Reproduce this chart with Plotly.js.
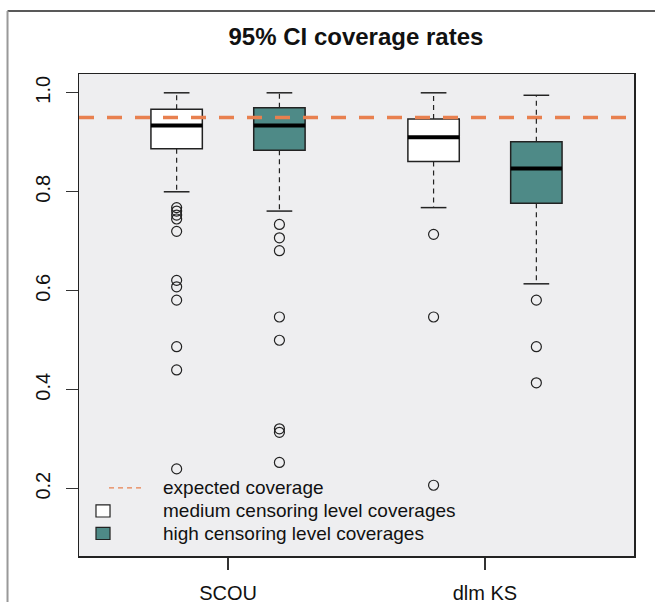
<!DOCTYPE html>
<html>
<head>
<meta charset="utf-8">
<script src="https://cdn.plot.ly/plotly-3.0.1.min.js"></script>
<style>html,body{margin:0;padding:0;background:#fff;}#chart{width:655px;height:602px;}</style>
</head>
<body>
<div id="chart"></div>
<script>
// ---- data ----
const categories = ['SCOU', 'dlm KS'];
const groupNames = ['medium censoring level coverages', 'high censoring level coverages'];
const expectedLabel = 'expected coverage';
const mediumQ1 = [0.887, 0.861];
const mediumMedian = [0.934, 0.910];
const mediumQ3 = [0.967, 0.947];
const mediumLowerWhisker = [0.800, 0.768];
const mediumUpperWhisker = [1.000, 1.000];
const mediumOutliersSCOU = [0.768, 0.761, 0.753, 0.745, 0.720, 0.621, 0.608, 0.581, 0.487, 0.440, 0.240];
const mediumOutliersDLM = [0.714, 0.547, 0.207];
const highQ1 = [0.884, 0.777];
const highMedian = [0.934, 0.847];
const highQ3 = [0.970, 0.901];
const highLowerWhisker = [0.761, 0.614];
const highUpperWhisker = [1.000, 0.995];
const highOutliersSCOU = [0.734, 0.707, 0.681, 0.547, 0.500, 0.321, 0.314, 0.253];
const highOutliersDLM = [0.581, 0.487, 0.414];
const expectedCoverage = 0.95;
const yTickValues = [0.2, 0.4, 0.6, 0.8, 1.0];
const yTickLabels = ['0.2', '0.4', '0.6', '0.8', '1.0'];

// ---- styling / layout constants ----
const fills = ['#ffffff', '#4e8a87'];
const boxLine = '#222222';
const orange = '#e8804f';
const offset = 0.2, boxW = 0.2, stapleW = 0.1;
const xRange = [0.42, 2.58];
const yRange = [0.064, 1.038];

const groups = [
  {q1: mediumQ1, med: mediumMedian, q3: mediumQ3, lo: mediumLowerWhisker, hi: mediumUpperWhisker, out: [mediumOutliersSCOU, mediumOutliersDLM]},
  {q1: highQ1, med: highMedian, q3: highQ3, lo: highLowerWhisker, hi: highUpperWhisker, out: [highOutliersSCOU, highOutliersDLM]}
];

const traces = [];
// expected coverage line (drawn across full x range)
traces.push({
  type: 'scatter', mode: 'lines', name: expectedLabel, x: xRange, y: [expectedCoverage, expectedCoverage],
  line: {color: orange, width: 3.5, dash: '15px,13px'}, showlegend: false, hoverinfo: 'skip'
});

const whiskX = [], whiskY = [], stapX = [], stapY = [], medX = [], medY = [], outX = [], outY = [];
groups.forEach((g, gi) => {
  const pos = categories.map((c, ci) => ci + 1 + (gi === 0 ? -offset : offset));
  traces.push({
    type: 'box', name: groupNames[gi], x: pos,
    q1: g.q1, median: g.med, q3: g.q3, lowerfence: g.q1, upperfence: g.q3,
    width: boxW, whiskerwidth: 0, boxpoints: false,
    fillcolor: fills[gi], line: {color: boxLine, width: 1.5},
    showlegend: false, hoverinfo: 'skip'
  });
  pos.forEach((p, ci) => {
    whiskX.push(p, p, null, p, p, null);
    whiskY.push(g.q3[ci], g.hi[ci], null, g.q1[ci], g.lo[ci], null);
    stapX.push(p - stapleW / 2, p + stapleW / 2, null, p - stapleW / 2, p + stapleW / 2, null);
    stapY.push(g.hi[ci], g.hi[ci], null, g.lo[ci], g.lo[ci], null);
    medX.push(p - boxW / 2, p + boxW / 2, null);
    medY.push(g.med[ci], g.med[ci], null);
    g.out[ci].forEach(v => { outX.push(p); outY.push(v); });
  });
});
traces.push({type: 'scatter', mode: 'lines', x: whiskX, y: whiskY, line: {color: boxLine, width: 1.2, dash: '5px,4px'}, showlegend: false, hoverinfo: 'skip'});
traces.push({type: 'scatter', mode: 'lines', x: stapX, y: stapY, line: {color: boxLine, width: 1.5}, showlegend: false, hoverinfo: 'skip'});
traces.push({type: 'scatter', mode: 'lines', x: medX, y: medY, line: {color: '#000000', width: 4}, showlegend: false, hoverinfo: 'skip'});
traces.push({type: 'scatter', mode: 'markers', x: outX, y: outY, marker: {symbol: 'circle-open', size: 10, color: boxLine, line: {width: 1.2, color: boxLine}}, showlegend: false, hoverinfo: 'skip'});

const font = 'Liberation Sans, Arial, Helvetica, sans-serif';

// legend (drawn inside the plot, bottom-left, as in the original)
const legRowY = [0.1415, 0.0934, 0.0467];
const legTextX = 0.149;
const legSqX = [0.0306, 0.0559];
const legSqH = 0.0125;
const legendShapes = [
  {type: 'line', xref: 'paper', yref: 'paper', x0: 0.0541, x1: 0.1189, y0: legRowY[0], y1: legRowY[0], line: {color: orange, width: 1.3, dash: '5px,4px'}},
  {type: 'rect', xref: 'paper', yref: 'paper', x0: legSqX[0], x1: legSqX[1], y0: legRowY[1] - legSqH, y1: legRowY[1] + legSqH, fillcolor: fills[0], line: {color: boxLine, width: 1.2}},
  {type: 'rect', xref: 'paper', yref: 'paper', x0: legSqX[0], x1: legSqX[1], y0: legRowY[2] - legSqH, y1: legRowY[2] + legSqH, fillcolor: fills[1], line: {color: boxLine, width: 1.2}}
];
const legendTexts = [expectedLabel, groupNames[0], groupNames[1]];
const legendAnnotations = legendTexts.map((t, i) => ({
  xref: 'paper', yref: 'paper', x: legTextX, y: legRowY[i], xanchor: 'left', yanchor: 'middle',
  text: t, showarrow: false, borderpad: 0, font: {size: 19, family: font, color: '#111'}
}));

const layout = {
  width: 655, height: 602,
  margin: {l: 79, r: 21, t: 74, b: 46, pad: 0},
  paper_bgcolor: '#ffffff', plot_bgcolor: '#eeeef0',
  font: {family: font, color: '#111', size: 20},
  title: {text: '<b>95% CI coverage rates</b>', x: 0.5434, xanchor: 'center', y: 0.94, yanchor: 'middle', yref: 'container', font: {size: 24, family: font, color: '#111'}},
  showlegend: false,
  xaxis: {range: xRange, tickvals: [1, 2], ticktext: categories, ticks: 'outside', ticklen: 12, tickwidth: 1.2, tickcolor: '#333',
          showgrid: false, zeroline: false, showline: true, mirror: true, linecolor: '#222', linewidth: 1.5,
          tickfont: {size: 20, family: font, color: '#111'}, ticklabelstandoff: 6},
  yaxis: {range: yRange, tickvals: yTickValues, ticktext: yTickLabels, ticks: 'outside', ticklen: 12, tickwidth: 1.2, tickcolor: '#333',
          showgrid: false, zeroline: false, showline: true, mirror: true, linecolor: '#222', linewidth: 1.5,
          tickangle: -90, tickfont: {size: 20, family: font, color: '#111'}, ticklabelstandoff: 8},
  boxmode: 'overlay',
  annotations: legendAnnotations,
  shapes: [
    {type: 'line', xref: 'paper', yref: 'paper', x0: -0.1288, x1: 1.05, y0: 1.1307, y1: 1.1307, line: {color: '#222', width: 1.5}},
    {type: 'line', xref: 'paper', yref: 'paper', x0: -0.1288, x1: -0.1288, y0: 1.1307, y1: -0.1, line: {color: '#999', width: 2}}
  ].concat(legendShapes)
};

Plotly.newPlot('chart', traces, layout, {staticPlot: true, displayModeBar: false});
</script>
</body>
</html>
